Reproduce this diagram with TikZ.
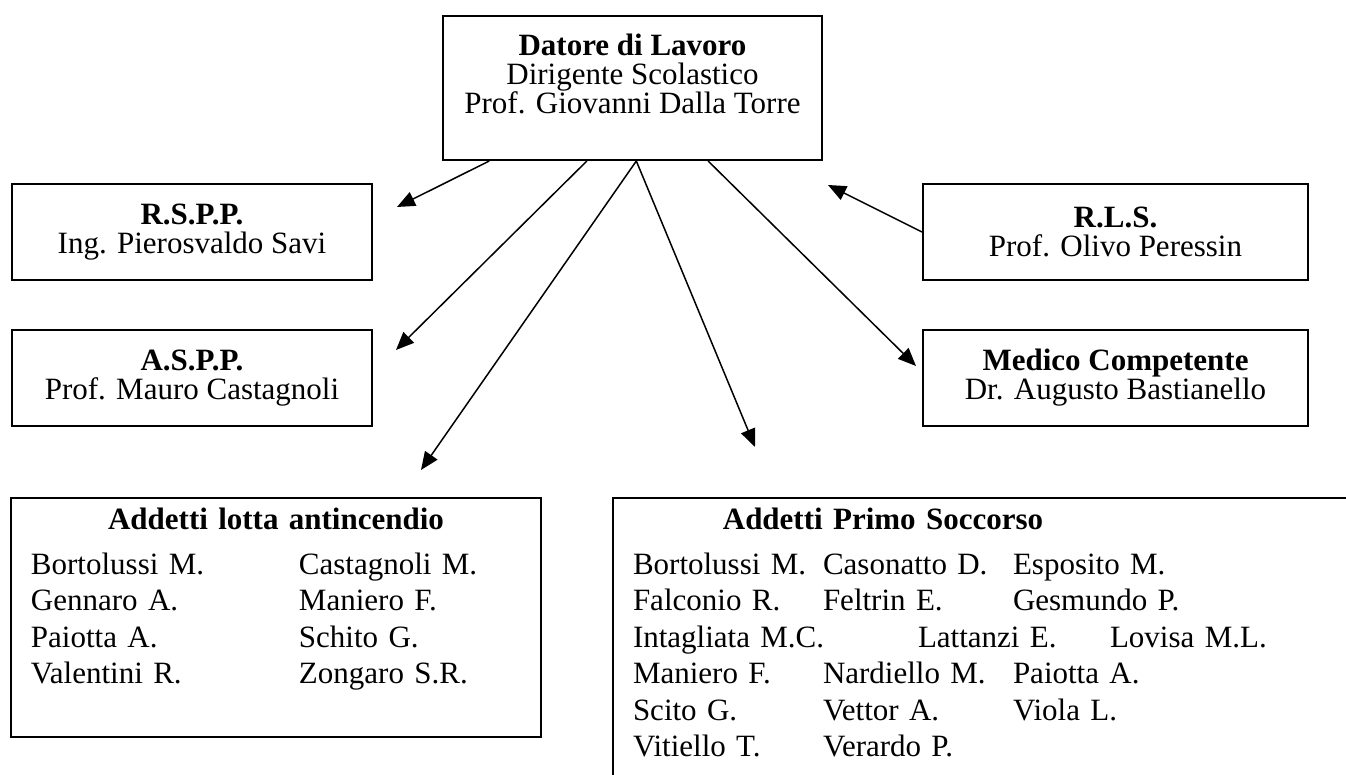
\documentclass[tikz,border=0pt]{standalone}
\usepackage{fontspec}
\setmainfont{Liberation Serif}
\usetikzlibrary{arrows.meta,positioning}

\tikzset{
  box/.style={draw,line width=1pt,align=center,inner sep=0pt,
    font=\fontsize{15.5}{14.5}\selectfont},
  listbox/.style={draw,line width=1pt,anchor=north west,align=left,
    inner xsep=10pt,inner ysep=3pt,font=\fontsize{15.5}{18.25}\selectfont},
  link/.style={line width=0.75pt,-{Triangle[length=9pt,width=7.5pt]}}
}

\begin{document}
\begin{tikzpicture}[x=0.5pt,y=-0.5pt]
  \useasboundingbox (0,0) rectangle (1346,775);
  \clip (0,0) rectangle (1346,775);
  \node [box,minimum width=189.5pt,minimum height=72pt] (datore) at (632.5,88)
    {\textbf{Datore di Lavoro}\\Dirigente Scolastico\\Prof. Giovanni Dalla Torre\\~};
  \node [box,minimum width=180pt,minimum height=48pt] (rspp) at (192,232)
    {\textbf{R.S.P.P.}\\Ing. Pierosvaldo Savi};
  \node [box,minimum width=180pt,minimum height=48pt] (aspp) [below=24pt of rspp]
    {\textbf{A.S.P.P.}\\Prof. Mauro Castagnoli};
  \node [box,minimum width=192.5pt,minimum height=48pt] (rls) at (1115.5,232)
    {\textbf{R.L.S.}\\Prof. Olivo Peressin};
  \node [box,minimum width=192.5pt,minimum height=48pt] (medico) [below=24pt of rls]
    {\textbf{Medico Competente}\\Dr. Augusto Bastianello};
  \node [listbox,text width=245pt] (fire) at (10,497)
    {\begin{tabular}{@{}p{134pt}@{}p{111pt}@{}}
      \multicolumn{2}{@{}c@{}}{\textbf{Addetti lotta antincendio}}\\[4pt]
      Bortolussi M. & Castagnoli M.\\
      Gennaro A. & Maniero F.\\
      Paiotta A. & Schito G.\\
      Valentini R. & Zongaro S.R.\\
      &
    \end{tabular}};
  \node [listbox,text width=380pt] (aid) at (612,497)
    {\begin{tabular}{@{}p{95pt}@{}p{95pt}@{}l@{}}
      \multicolumn{3}{@{}l@{}}{\makebox[250pt][c]{\textbf{Addetti Primo Soccorso}}}\\[4pt]
      Bortolussi M. & Casonatto D. & Esposito M.\\
      Falconio R. & Feltrin E. & Gesmundo P.\\
      \multicolumn{3}{@{}l@{}}{\rlap{\makebox[142.5pt][l]{Intagliata M.C.}\makebox[96pt][l]{Lattanzi E.}Lovisa M.L.}}\\
      Maniero F. & Nardiello M. & Paiotta A.\\
      Scito G. & Vettor A. & Viola L.\\
      Vitiello T. & Verardo P. & \\
      & &
    \end{tabular}};
  \coordinate (tipRspp) at (397,207);
  \coordinate (tipAspp) at (396,350);
  \coordinate (tipFire) at (421,470);
  \coordinate (tipAid) at (755,447);
  \coordinate (tipMedico) at (916,366);
  \coordinate (tipRls) at (828,185);
  \draw [link] (datore.207) -- (tipRspp);
  \draw [link] (datore.238) -- (tipAspp);
  \draw [link] (datore.273) -- (tipFire);
  \draw [link] (datore.273) -- (tipAid);
  \draw [link] (datore.316) -- (tipMedico);
  \draw [link] (rls.west) -- (tipRls);
\end{tikzpicture}
\end{document}
